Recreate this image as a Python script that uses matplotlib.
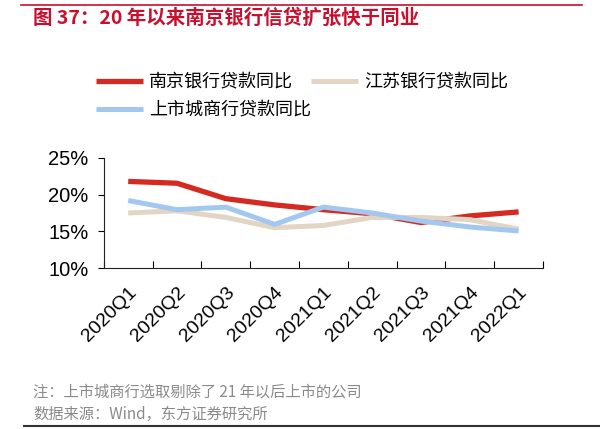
import numpy as np
import matplotlib
matplotlib.use('Agg')
import matplotlib.pyplot as plt
from matplotlib.lines import Line2D

plt.rcParams['font.family'] = ['Noto Sans CJK SC', 'DejaVu Sans']

quarters = ['2020Q1', '2020Q2', '2020Q3', '2020Q4', '2021Q1',
            '2021Q2', '2021Q3', '2021Q4', '2022Q1']
nanjing = [21.8, 21.55, 19.45, 18.6, 17.95, 17.4, 16.2, 17.1, 17.65]
jiangsu = [17.5, 17.8, 16.9, 15.5, 15.8, 16.9, 16.9, 16.6, 15.3]
citybanks = [19.2, 17.95, 18.3, 15.95, 18.3, 17.5, 16.4, 15.6, 15.05]

red = '#d42a22'
beige = '#e3d5c3'
blue = '#a3c8ef'

fig = plt.figure(figsize=(6, 4.29), dpi=100)
ax = fig.add_axes([0.173, 0.375, 0.732, 0.257])

x = np.arange(len(quarters))
l1, = ax.plot(x, nanjing, color=red, lw=3.8, solid_capstyle='butt', zorder=3)
l2, = ax.plot(x, jiangsu, color=beige, lw=3.6, solid_capstyle='butt', zorder=4)
l3, = ax.plot(x, citybanks, color=blue, lw=3.6, solid_capstyle='butt', zorder=5)

ax.set_xlim(-0.5, len(quarters) - 0.5)
ax.set_ylim(10, 25)
ax.set_yticks([10, 15, 20, 25])
ax.set_yticklabels(['10%', '15%', '20%', '25%'], fontsize=14.5, family='Liberation Sans')
ax.tick_params(axis='y', direction='out', length=4, width=0.8, pad=7)

ax.set_xticks(np.arange(-0.5, len(quarters)))
ax.set_xticklabels([])
ax.tick_params(axis='x', which='major', direction='in', length=5, width=0.8)
ax.set_xticks(x, minor=True)
ax.set_xticklabels(quarters, minor=True, rotation=45, ha='right', va='top',
                   rotation_mode='anchor', fontsize=14, family='Liberation Sans')
ax.tick_params(axis='x', which='minor', length=0, pad=11)

for s in ['top', 'right']:
    ax.spines[s].set_visible(False)
for s in ['left', 'bottom']:
    ax.spines[s].set_linewidth(0.8)
    ax.spines[s].set_color('#222222')

leg = fig.legend([l1, l3, l2], ['南京银行贷款同比', '上市城商行贷款同比', '江苏银行贷款同比'],
                 ncol=2, frameon=False, loc='upper left',
                 bbox_to_anchor=(0.148, 0.845), fontsize=13,
                 handlelength=2.6, handletextpad=0.35, columnspacing=0.0,
                 labelspacing=0.55, borderaxespad=0)

# title and frame lines
fig.add_artist(Line2D([0.035, 0.97], [0.988, 0.988], color='#c8102e', lw=1.2))
fig.text(0.055, 0.958, '图 37：20 年以来南京银行信贷扩张快于同业', color='#c8102e',
         fontsize=14, fontweight='bold', va='center', ha='left')

fig.text(0.055, 0.087, '注：上市城商行选取剔除了 21 年以后上市的公司', color='#8a8a8a',
         fontsize=11, va='center', ha='left')
fig.text(0.055, 0.033, '数据来源：Wind，东方证券研究所', color='#8a8a8a',
         fontsize=11, va='center', ha='left')
fig.add_artist(Line2D([0.04, 1.0], [0.008, 0.008], color='#333333', lw=1.5))

fig.savefig('out.png', dpi=100)
